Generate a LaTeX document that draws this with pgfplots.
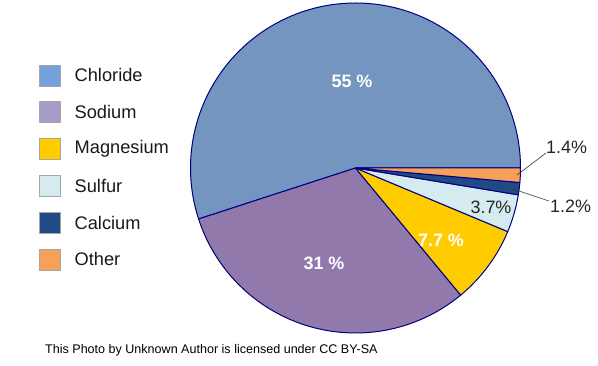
\documentclass[border=0pt]{standalone}
\usepackage{pgfplots}
\pgfplotsset{compat=1.18}
\usepackage{fontspec}
\setmainfont{Liberation Sans}
\definecolor{pChl}{HTML}{7395C0}
\definecolor{pSod}{HTML}{9279AC}
\definecolor{pMag}{HTML}{FFCC00}
\definecolor{pSul}{HTML}{D5EBF0}
\definecolor{pCal}{HTML}{1F4A85}
\definecolor{pOth}{HTML}{F7A05A}
\definecolor{lChl}{HTML}{74A0DC}
\definecolor{lSod}{HTML}{A99BC7}
\definecolor{pieEdge}{HTML}{000080}
\begin{document}
\begin{tikzpicture}
\begin{axis}[width=598bp,height=366bp,scale only axis,
  xmin=0,xmax=598,ymin=0,ymax=366,hide axis,clip=false]
% invisible anchor so the axis has data
\addplot[draw=none] coordinates {(0,0) (598,366)};
\gdef\cumang{0}
\foreach \v/\c in {55/pChl,31/pSod,7.7/pMag,3.7/pSul,1.2/pCal,1.4/pOth} {
  \pgfmathsetmacro{\a}{\cumang}
  \pgfmathsetmacro{\b}{\cumang+3.6*\v}
  \edef\temp{\noexpand\filldraw[fill=\c, draw=pieEdge, line width=1bp, line join=round]
    (axis cs:355.5,198) -- ++(\a:165bp) arc[start angle=\a, end angle=\b, radius=165bp] -- cycle;}
  \temp
  \xdef\cumang{\b}
}
% slice labels
\node[text=white,font=\fontsize{18}{18}\selectfont\bfseries] at (axis cs:352,285) {55 \%};
\node[text=white,font=\fontsize{18}{18}\selectfont\bfseries] at (axis cs:324,103) {31 \%};
\node[text=white,font=\fontsize{18}{18}\selectfont\bfseries] at (axis cs:441,126) {7.7 \%};
\node[text=black!85,font=\fontsize{18}{18}\selectfont] at (axis cs:491,159) {3.7\%};
% leader lines and outside labels
\draw[black!80, line width=0.6bp] (axis cs:517,191) -- (axis cs:546,213);
\node[text=black!85,font=\fontsize{18}{18}\selectfont,anchor=west,inner sep=0pt] at (axis cs:546,219) {1.4\%};
\draw[black!80, line width=0.6bp] (axis cs:510,178) -- (axis cs:549,165);
\node[text=black!85,font=\fontsize{18}{18}\selectfont,anchor=west,inner sep=0pt] at (axis cs:550,160) {1.2\%};
% legend
\foreach \c/\t [count=\i from 0] in {lChl/Chloride,lSod/Sodium,pMag/Magnesium,pSul/Sulfur,pCal/Calcium,pOth/Other} {
  \pgfmathsetmacro{\yy}{366-75.3-36.8*\i}
  \edef\temp{\noexpand\filldraw[fill=\c, draw=black!35, line width=0.5bp]
    (axis cs:39.5,\yy-10.5) rectangle (axis cs:60.5,\yy+10.5);
    \noexpand\node[anchor=west,inner sep=0pt,font=\noexpand\fontsize{18.3}{18.3}\noexpand\selectfont,text=black!90] at (axis cs:74.5,\yy) {\t};}
  \temp
}
% footer
\node[anchor=west,inner sep=0pt,font=\fontsize{12.6}{12.6}\selectfont] at (axis cs:45,15.5) {This Photo by Unknown Author is licensed under CC BY-SA};
\end{axis}
\end{tikzpicture}
\end{document}
